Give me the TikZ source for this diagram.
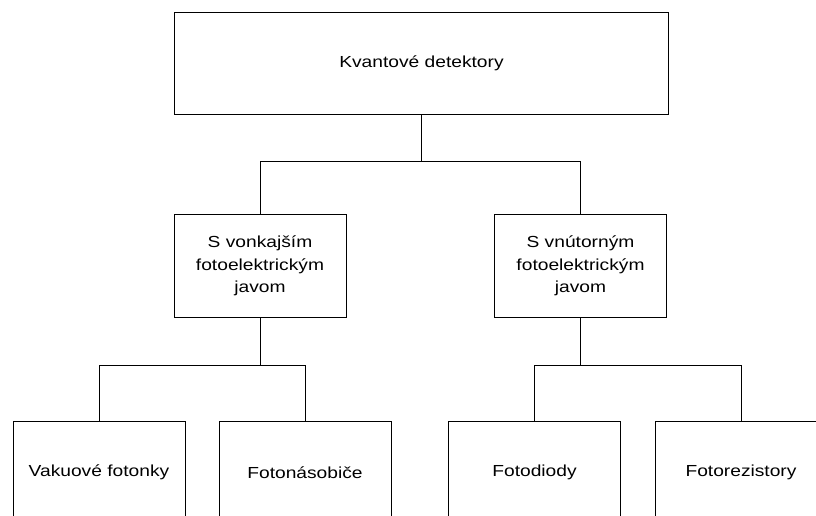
\documentclass[tikz,border=0pt]{standalone}
\usepackage{fontspec}
\setmainfont{Liberation Sans}[FakeStretch=1.2]
\usepackage{tikz}
\tikzstyle{block} = [rectangle, draw, line width=0.75pt, minimum width=129pt, minimum height=77pt, align=center, inner sep=0pt, font=\fontsize{12}{17}\selectfont]
\tikzstyle{wideblock} = [block, minimum width=371pt]
\tikzstyle{line} = [line width=0.75pt]

\begin{document}
\begin{tikzpicture}[x=0.75pt, y=-0.75pt]
    \useasboundingbox (0,0) rectangle (816,516);
    \clip (0,0) rectangle (816,516);
    \node (top) [wideblock] at (421.5,63.5) {Kvantové detektory};
    \node (vonk) [block] at (260,266) {S vonkajším\\fotoelektrickým\\javom};
    \node (vnut) [block] at (580.5,266) {S vnútorným\\fotoelektrickým\\javom};
    \node (vak) [block] at (99,472.5) {Vakuové fotonky};
    \node (nas) [block] at (305,472.5) {Fotonásobiče};
    \node (diody) [block] at (534.5,472.5) {Fotodiody};
    \node (rez) [block] at (741,472.5) {Fotorezistory};

    \draw[line] (top.south) -- ++(0,46) coordinate (b0) -| (vonk.north);
    \draw[line] (b0) -| (vnut.north);
    \draw[line] (vonk.south) -- ++(0,48) coordinate (b1) -| (vak.north);
    \draw[line] (b1) -| (nas.north);
    \draw[line] (vnut.south) -- ++(0,48) coordinate (b2) -| (diody.north);
    \draw[line] (b2) -| (rez.north);
\end{tikzpicture}
\end{document}
